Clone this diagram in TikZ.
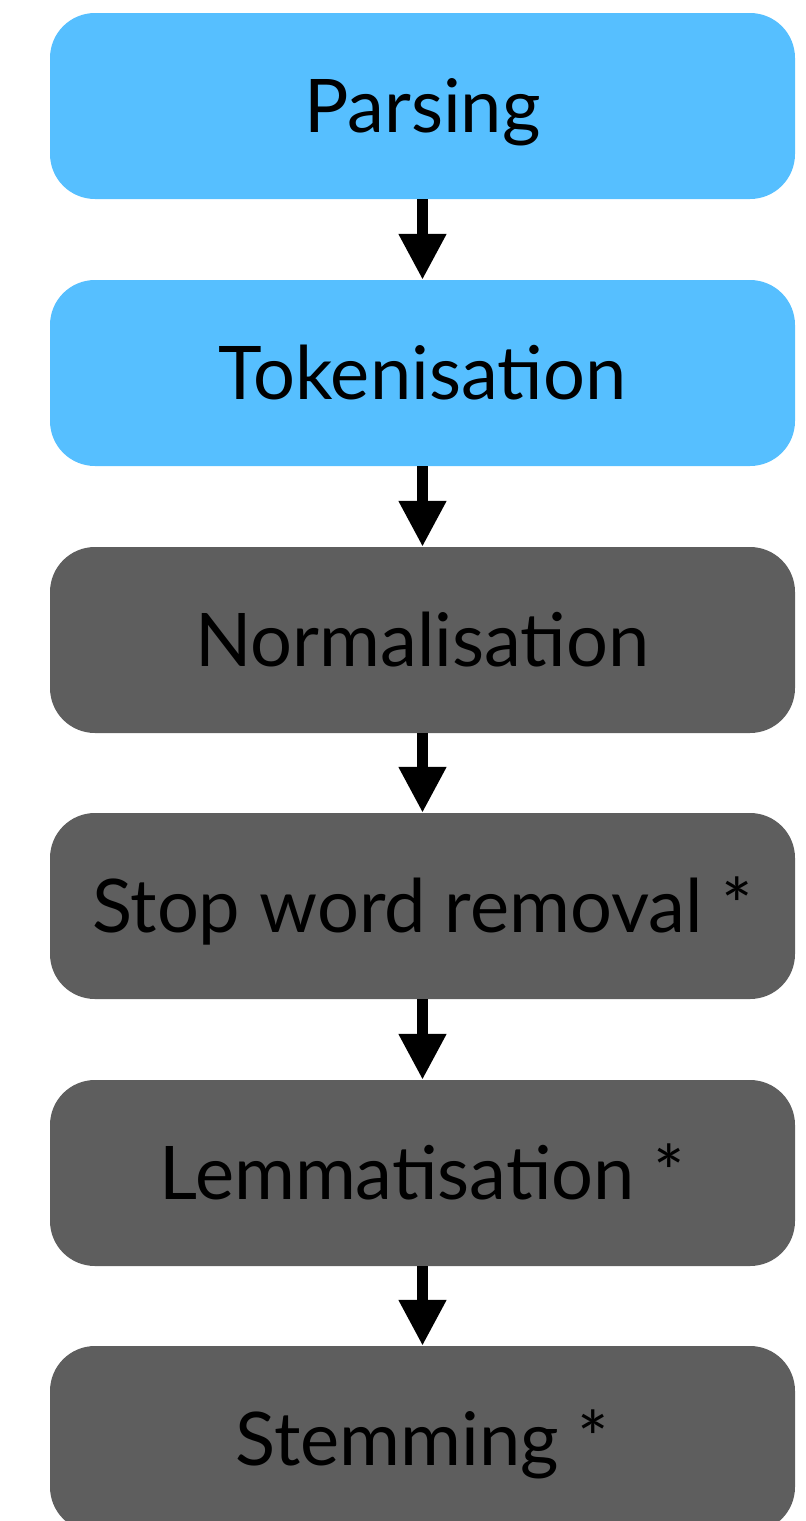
\documentclass[tikz,border=0pt]{standalone}
\usepackage{fontspec}
\setmainfont{Lato}
\usetikzlibrary{arrows.meta}
\definecolor{stepblue}{HTML}{56BFFF}
\definecolor{stepgray}{HTML}{5E5E5E}
\tikzset{
  stage/.style={rectangle, rounded corners=45pt, minimum width=745pt,
    minimum height=186pt, inner sep=0pt, text=black,
    text height=52pt, text depth=0pt,
    font=\fontsize{74}{80}\selectfont},
  early/.style={stage, fill=stepblue},
  late/.style={stage, fill=stepgray},
  flow/.style={line width=11pt, -{Triangle[length=46pt,width=45pt]}}
}
\begin{document}
\begin{tikzpicture}[x=1pt, y=-1pt]
  \clip (0,0) rectangle (806,1521);
  \useasboundingbox (0,0) rectangle (806,1521);
  \node[early] (parse) at (422.5,106) {Parsing};
  \node[early] (token) at (422.5,373) {Tokenisation};
  \node[late]  (norm)  at (422.5,640) {Normalisation};
  \node[late]  (stop)  at (422.5,906) {Stop word removal *};
  \node[late]  (lemma) at (422.5,1173) {Lemmatisation *};
  \node[late]  (stem)  at (422.5,1439) {Stemming *};
  \draw[flow] (parse.south) -- (token.north);
  \draw[flow] (token.south) -- (norm.north);
  \draw[flow] (norm.south) -- (stop.north);
  \draw[flow] (stop.south) -- (lemma.north);
  \draw[flow] (lemma.south) -- (stem.north);
\end{tikzpicture}
\end{document}
